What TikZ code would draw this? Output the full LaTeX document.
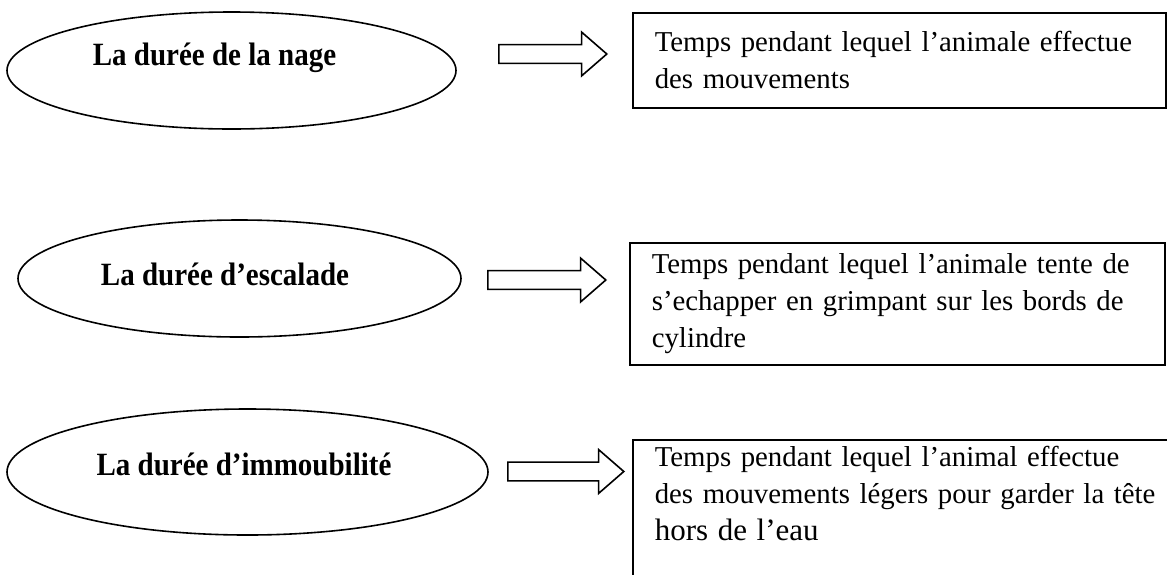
\documentclass[tikz,border=0pt]{standalone}
\usepackage{fontspec}
\usepackage{graphicx}
\setmainfont{Liberation Serif}
\usetikzlibrary{shapes.geometric,shapes.arrows}

\newcommand{\etire}[1]{\scalebox{1}[1.12]{#1}}

\tikzset{
  duree/.style  ={ellipse, draw, line width=0.8pt, inner sep=0pt},
  titre/.style  ={font=\fontsize{14.5}{17}\selectfont\bfseries, inner sep=0pt},
  fleche/.style ={single arrow, draw, line width=0.8pt, inner xsep=0pt, inner ysep=4.3pt,
                  single arrow head extend=6.25pt, single arrow tip angle=82, anchor=tail},
  defin/.style  ={draw, line width=0.8pt, anchor=north west, align=left,
                  font=\fontsize{14.4}{18.5}\selectfont, inner xsep=11pt, inner ysep=0pt}
}

\begin{document}
\begin{tikzpicture}[x=0.5pt,y=-0.5pt]
  \useasboundingbox (0,0) rectangle (1167,574);
  \clip (0,0) rectangle (1167,574);

  % les trois durees
  \node[duree, minimum width=224.5pt, minimum height=58.5pt] (nage)     at (231.5,70.5) {};
  \node[duree, minimum width=221.5pt, minimum height=58.5pt] (escalade) at (239.5,278.5) {};
  \node[duree, minimum width=240.5pt, minimum height=63pt]   (immob)    at (247.5,472)  {};

  \node[titre] (tnage)     at (214.5,58) {\etire{La durée de la nage}};
  \node[titre] (tescalade) at (225,274)  {\etire{La durée d’escalade}};
  \node[titre] (timmob)    at (244,464)  {\etire{La durée d’immoubilité}};

  % fleches
  \node[fleche, minimum height=54pt] (fnage)     at (498,54)    {};
  \node[fleche, minimum height=59pt] (fescalade) at (487,280)   {};
  \node[fleche, minimum height=58pt] (fimmob)    at (507,471.5) {};

  % definitions
  \node[defin, text width=244.5pt, minimum height=47.5pt] (dnage) at (632,12)
    {Temps pendant lequel l’animale effectue\\des mouvements};
  \node[defin, text width=245.5pt, minimum height=61pt] (descalade) at (629,242)
    {Temps pendant lequel l’animale tente de\\s’echapper en grimpant sur les bords de\\cylindre};
  \node[defin, text width=300pt, text depth=90pt, inner ysep=3pt] (dimmob) at (632,439)
    {Temps pendant lequel l’animal effectue\\des mouvements légers pour garder la tête\\{\fontsize{15.5}{18.5}\selectfont hors de l’eau}};
\end{tikzpicture}
\end{document}
